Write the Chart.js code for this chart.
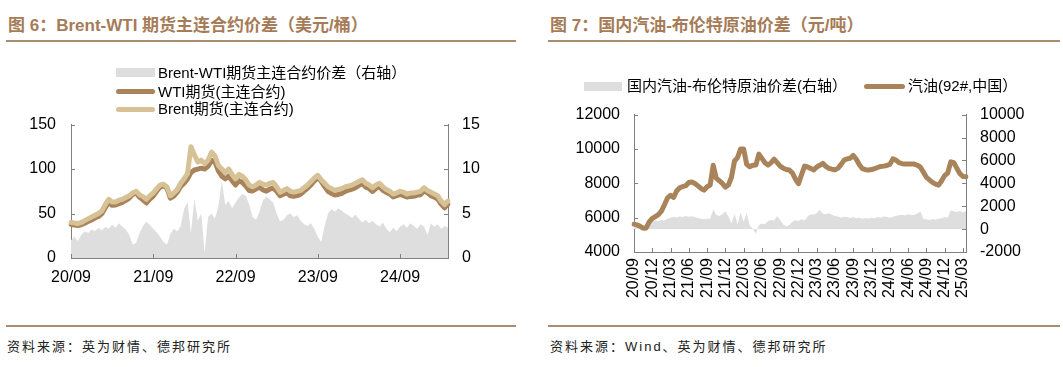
<!DOCTYPE html>
<html lang="zh-CN">
<head>
<meta charset="utf-8">
<script src="https://cdn.jsdelivr.net/npm/chart.js@4.4.1/dist/chart.umd.min.js"></script>
<style>
  html, body { margin: 0; padding: 0; background: #fff; }
  body { width: 1063px; height: 367px; position: relative; overflow: hidden;
         font-family: 'Liberation Sans', 'Noto Sans CJK SC', sans-serif; }
  .title { position: absolute; top: 11px; font-size: 17px; font-weight: bold; color: #a67c58; white-space: nowrap; }
  .rule { position: absolute; height: 2px; background: #aa8c6e; }
  .source { position: absolute; top: 336px; font-size: 13px; color: #222; letter-spacing: 2px; white-space: nowrap; }
  .lg-text { position: absolute; font-size: 15px; line-height: 18px; color: #000; white-space: nowrap; }
  .lg-sw { position: absolute; }
  canvas { position: absolute; }
</style>
</head>
<body>
<div class="title" style="left:8px">图 6：Brent-WTI 期货主连合约价差（美元/桶）</div>
<div class="title" style="left:550px">图 7：国内汽油-布伦特原油价差（元/吨）</div>
<div class="rule" style="left:6px; width:510px; top:40px"></div>
<div class="rule" style="left:548px; width:512px; top:40px"></div>
<div class="rule" style="left:6px; width:510px; top:325px"></div>
<div class="rule" style="left:548px; width:512px; top:325px"></div>
<div class="source" style="left:7px">资料来源：英为财情、德邦研究所</div>
<div class="source" style="left:550px">资料来源：Wind、英为财情、德邦研究所</div>
<canvas id="spreadChart" width="530" height="190" style="left:0; top:100px"></canvas>
<canvas id="gasolineChart" width="533" height="224" style="left:530px; top:91px"></canvas>
<div id="legendLeft"></div>
<div id="legendRight"></div>
<script>
// ---- data ----
const leftTickLabels = ['20/09', '21/09', '22/09', '23/09', '24/09'];
const rightTickLabels = ['20/09', '20/12', '21/03', '21/06', '21/09', '21/12', '22/03', '22/06', '22/09',
    '22/12', '23/03', '23/06', '23/09', '23/12', '24/03', '24/06', '24/09', '24/12', '25/03'];

const leftSeriesNames = ['Brent-WTI期货主连合约价差（右轴）', 'WTI期货(主连合约)', 'Brent期货(主连合约)'];
const rightSeriesNames = ['国内汽油-布伦特原油价差(右轴）', '汽油(92#,中国）'];

// half-month points from 2020-09
const brent = [40, 39.5, 38.5, 40, 42, 44, 46, 48, 50, 53,
    60, 66, 63, 63, 65, 66, 68, 70, 73, 75,
    71, 69, 66, 70, 73, 78, 82, 83, 80, 70,
    73, 77, 84, 89, 95, 125, 116, 108, 110, 106,
    110, 119, 115, 104, 100, 96, 100, 94, 89, 94,
    92, 88, 82, 80, 82, 85, 83, 82, 84, 85,
    80, 74, 76, 78, 75, 74, 75, 76, 79, 82,
    86, 90, 93, 88, 84, 80, 78, 76, 77, 78,
    80, 81, 82, 84, 86, 88, 84, 82, 79, 82,
    84, 80, 77, 75, 72, 73, 75, 74, 72, 73,
    73, 74, 75, 79, 76, 74, 72, 70, 64, 60, 64];
const wti = [38, 37.1, 36.6, 37.4, 39, 41.2, 42.8, 45, 46.6, 49.9,
    56.5, 62.7, 59.3, 59.6, 61.1, 62.5, 64.8, 67.4, 71.5, 73.3,
    68.2, 65.4, 61.9, 66.3, 69.7, 75.1, 79.6, 81.2, 78.5, 67.3,
    69.7, 74, 80.4, 84, 89, 96, 99, 100, 101, 100,
    103, 110, 108, 98, 92, 89, 92, 87, 82, 87,
    85, 81, 76, 75.4, 77.7, 79.8, 76.5, 75.1, 77.4, 78.8,
    75, 69.9, 71.7, 73.2, 70, 69.4, 70.2, 71.8, 75.2, 78.4,
    82.1, 86.7, 90.6, 86.2, 80.4, 75, 72.5, 70.8, 71.4, 72.7,
    75, 76.2, 77.5, 79.1, 81.6, 84, 79.7, 78.1, 74.8, 78.2,
    80.5, 76, 73.7, 72.1, 68.6, 70, 71.5, 70.2, 68.6, 69.1,
    69.4, 70.7, 71.2, 75.5, 73.4, 70.1, 68.5, 66.2, 60.7, 56.4, 60.6];
const brentWtiSpread = [2.0, 2.4, 1.9, 2.6, 3.0, 2.8, 3.2, 3.0, 3.4, 3.1,
    3.5, 3.3, 3.7, 3.4, 3.9, 3.5, 3.2, 2.6, 1.5, 1.7,
    2.8, 3.6, 4.1, 3.7, 3.3, 2.9, 2.4, 1.8, 1.5, 2.7,
    3.3, 3.0, 3.6, 5.5, 6.3, 2.8, 6.7, 4.2, 5.0, 0.6,
    4.6, 5.0, 4.4, 5.8, 8.6, 6.0, 6.4, 5.6, 6.2, 6.8,
    7.2, 7.0, 6.0, 4.6, 4.3, 5.2, 6.5, 6.9, 6.6, 6.2,
    5.0, 4.1, 4.3, 4.8, 5.0, 4.6, 4.8, 4.2, 3.8, 3.6,
    3.9, 3.3, 2.4, 1.8, 3.6, 5.0, 5.5, 5.2, 5.6, 5.3,
    5.0, 4.8, 4.5, 4.9, 4.4, 4.0, 4.3, 3.9, 4.2, 3.8,
    3.5, 4.0, 3.3, 2.9, 3.4, 3.0, 3.5, 3.8, 3.4, 3.9,
    3.6, 3.3, 3.8, 3.5, 2.6, 3.9, 3.5, 3.8, 3.3, 3.6, 3.4];

const gasoline = [5620, 5580, 5500, 5380, 5400, 5750, 5960, 6060, 6180, 6380,
    6750, 7150, 7300, 7180, 7550, 7740, 7810, 7860, 8050, 8080,
    7990, 7850, 7700, 7600, 7800, 7900, 9050, 8300, 8150, 7990,
    7780, 7900, 8350, 9300, 9500, 10000, 10000, 9100, 8960, 9050,
    9060, 9700, 9450, 9200, 9060, 9200, 9400, 9200, 9000, 8880,
    8800, 8770, 8600, 8250, 7980, 8500, 9000, 8950, 8870, 8780,
    8950, 9050, 9160, 8980, 8870, 8820, 8780, 8880, 9100, 9350,
    9420, 9460, 9620, 9400, 9080, 8850, 8790, 8770, 8800, 8860,
    8920, 8980, 9000, 9040, 9100, 9420, 9350, 9200, 9140, 9130,
    9130, 9130, 9120, 9050, 8950, 8650, 8350, 8200, 8050, 7950,
    7890, 8150, 8450, 8600, 9250, 9200, 8870, 8560, 8400, 8380];
const gasolineSpread = [380, 320, 290, 340, 300, 450, 650, 750, 700, 800,
    760, 900, 1000, 1080, 1020, 1100, 1050, 1150, 1080, 1120,
    1050, 980, 900, 860, 920, 880, 1720, 1250, 1150, 1300,
    1550, 1100, 500, 1340, 420, 1450, 650, 1400, 300, 50,
    -410, 350, 500, 420, 700, 800, 750, 1150, 800, 400,
    250, 350, 650, 800, 700, 850, 750, 1100, 1300, 1250,
    1400, 1700, 1350, 1300, 1380, 1250, 1150, 1100, 1000, 1080,
    1050, 980, 1050, 950, 1000, 900, 980, 920, 1000, 950,
    1050, 1000, 1100, 1050, 1000, 1080, 1150, 1200, 1250, 1180,
    1300, 1200, 1250, 1350, 1550, 900, 850, 800, 880, 820,
    900, 950, 1050, 1000, 1650, 1550, 1500, 1600, 1450, 1550];

// category labels: 1st and 16th of each month starting Sep 2020
const halfMonthDates = [];
for (let k = 0; k < brent.length; k++) {
    const m = 8 + Math.floor(k / 2);
    const mm = String(m % 12 + 1).padStart(2, '0');
    halfMonthDates.push((2020 + Math.floor(m / 12)) + '-' + mm + (k % 2 ? '-16' : '-01'));
}

// ---- styles ----
const axisColor = '#808080';
const grayFill = '#dedede';
const brownLine = '#a9835a';
const tanLine = '#d6c296';

Chart.defaults.font.family = "'Liberation Sans', 'Noto Sans CJK SC', sans-serif";
Chart.defaults.font.size = 16;
Chart.defaults.color = '#000';

function shortLabel(d) {
    return d.slice(2, 4) + '/' + d.slice(5, 7);
}

function keepTicks(list) {
    return (scale) => {
        const labels = scale.getLabels();
        scale.ticks = scale.ticks.filter(t =>
            labels[t.value].endsWith('-01') && list.includes(shortLabel(labels[t.value])));
    };
}

// tick marks drawn inside the plot area
const innerTicks = {
    id: 'innerTicks',
    afterDraw(chart) {
        const { ctx, chartArea: a } = chart;
        ctx.save();
        ctx.strokeStyle = axisColor;
        ctx.lineWidth = 1;
        ctx.beginPath();
        Object.values(chart.scales).forEach(s => {
            s.ticks.forEach((t, i) => {
                const p = Math.round(s.getPixelForTick(i)) + 0.5;
                if (s.axis === 'x') {
                    ctx.moveTo(p, a.bottom); ctx.lineTo(p, a.bottom - 4);
                } else if (s.position === 'left') {
                    ctx.moveTo(a.left, p); ctx.lineTo(a.left + 4, p);
                } else {
                    ctx.moveTo(a.right, p); ctx.lineTo(a.right - 4, p);
                }
            });
        });
        ctx.stroke();
        ctx.restore();
    }
};

const axisBase = {
    grid: { drawOnChartArea: false, drawTicks: false },
    border: { color: axisColor, width: 1 }
};
const plainNumber = (v) => String(v);

function buildLegend(el, items) {
    items.forEach(it => {
        const sw = document.createElement('div');
        sw.className = 'lg-sw';
        sw.style.left = it.x + 'px';
        sw.style.width = it.w + 'px';
        sw.style.top = (it.cy - it.h / 2) + 'px';
        sw.style.height = it.h + 'px';
        sw.style.background = it.color;
        if (it.round) sw.style.borderRadius = (it.h / 2) + 'px';
        el.appendChild(sw);
        const tx = document.createElement('div');
        tx.className = 'lg-text';
        tx.style.left = it.tx + 'px';
        tx.style.top = (it.cy - 9) + 'px';
        tx.textContent = it.label;
        el.appendChild(tx);
    });
}

buildLegend(document.getElementById('legendLeft'), [
    { label: leftSeriesNames[0], color: grayFill, x: 116, w: 39, h: 9, cy: 72.5, tx: 158 },
    { label: leftSeriesNames[1], color: brownLine, x: 116, w: 39, h: 5, cy: 91.5, tx: 158, round: true },
    { label: leftSeriesNames[2], color: tanLine, x: 116, w: 39, h: 5, cy: 109, tx: 158, round: true }
]);
buildLegend(document.getElementById('legendRight'), [
    { label: rightSeriesNames[0], color: grayFill, x: 584, w: 38, h: 9, cy: 86, tx: 627 },
    { label: rightSeriesNames[1], color: brownLine, x: 864, w: 41, h: 5, cy: 86, tx: 908, round: true }
]);

// ---- 图6 ----
new Chart(document.getElementById('spreadChart'), {
    type: 'line',
    data: {
        labels: halfMonthDates,
        datasets: [
            {
                label: leftSeriesNames[0], data: brentWtiSpread, yAxisID: 'y1',
                fill: 'origin', backgroundColor: grayFill, borderWidth: 0, pointRadius: 0, order: 3
            },
            {
                label: leftSeriesNames[1], data: wti, yAxisID: 'y',
                borderColor: brownLine, borderWidth: 5, pointRadius: 0, order: 2,
                borderJoinStyle: 'round', borderCapStyle: 'round'
            },
            {
                label: leftSeriesNames[2], data: brent, yAxisID: 'y',
                borderColor: tanLine, borderWidth: 5, pointRadius: 0, order: 1,
                borderJoinStyle: 'round', borderCapStyle: 'round'
            }
        ]
    },
    options: {
        responsive: false, animation: false,
        plugins: { legend: { display: false }, tooltip: { enabled: false } },
        scales: {
            x: {
                ...axisBase, offset: false,
                ticks: {
                    autoSkip: false, maxRotation: 0, padding: 10,
                    callback(v) { return shortLabel(this.getLabelForValue(v)); }
                },
                afterBuildTicks: keepTicks(leftTickLabels),
                afterFit(s) { s.height = 32; }
            },
            y: {
                ...axisBase, position: 'left', min: 0, max: 150,
                ticks: { stepSize: 50, padding: 15, autoSkip: false, callback: plainNumber },
                afterFit(s) { s.width = 71; }
            },
            y1: {
                ...axisBase, position: 'right', min: 0, max: 15,
                ticks: { stepSize: 5, padding: 14, autoSkip: false, callback: plainNumber },
                afterFit(s) { s.width = 82; }
            }
        }
    },
    plugins: [innerTicks]
});

// ---- 图7 ----
new Chart(document.getElementById('gasolineChart'), {
    type: 'line',
    data: {
        labels: halfMonthDates.slice(0, gasoline.length),
        datasets: [
            {
                label: rightSeriesNames[0], data: gasolineSpread, yAxisID: 'y1',
                fill: 'origin', backgroundColor: grayFill, borderWidth: 0, pointRadius: 0, order: 2
            },
            {
                label: rightSeriesNames[1], data: gasoline, yAxisID: 'y',
                borderColor: brownLine, borderWidth: 5, pointRadius: 0, order: 1,
                borderJoinStyle: 'round', borderCapStyle: 'round'
            }
        ]
    },
    options: {
        responsive: false, animation: false,
        plugins: { legend: { display: false }, tooltip: { enabled: false } },
        scales: {
            x: {
                ...axisBase, offset: false,
                ticks: {
                    autoSkip: false, minRotation: 90, maxRotation: 90, padding: 6,
                    callback(v) { return shortLabel(this.getLabelForValue(v)); }
                },
                afterBuildTicks: keepTicks(rightTickLabels),
                afterFit(s) { s.height = 63; }
            },
            y: {
                ...axisBase, position: 'left', min: 4000, max: 12000,
                ticks: { stepSize: 2000, padding: 14, autoSkip: false, callback: plainNumber },
                afterFit(s) { s.width = 104; }
            },
            y1: {
                ...axisBase, position: 'right', min: -2000, max: 10000,
                ticks: { stepSize: 2000, padding: 14, autoSkip: false, callback: plainNumber },
                afterFit(s) { s.width = 97; }
            }
        }
    },
    plugins: [innerTicks]
});
</script>
</body>
</html>
